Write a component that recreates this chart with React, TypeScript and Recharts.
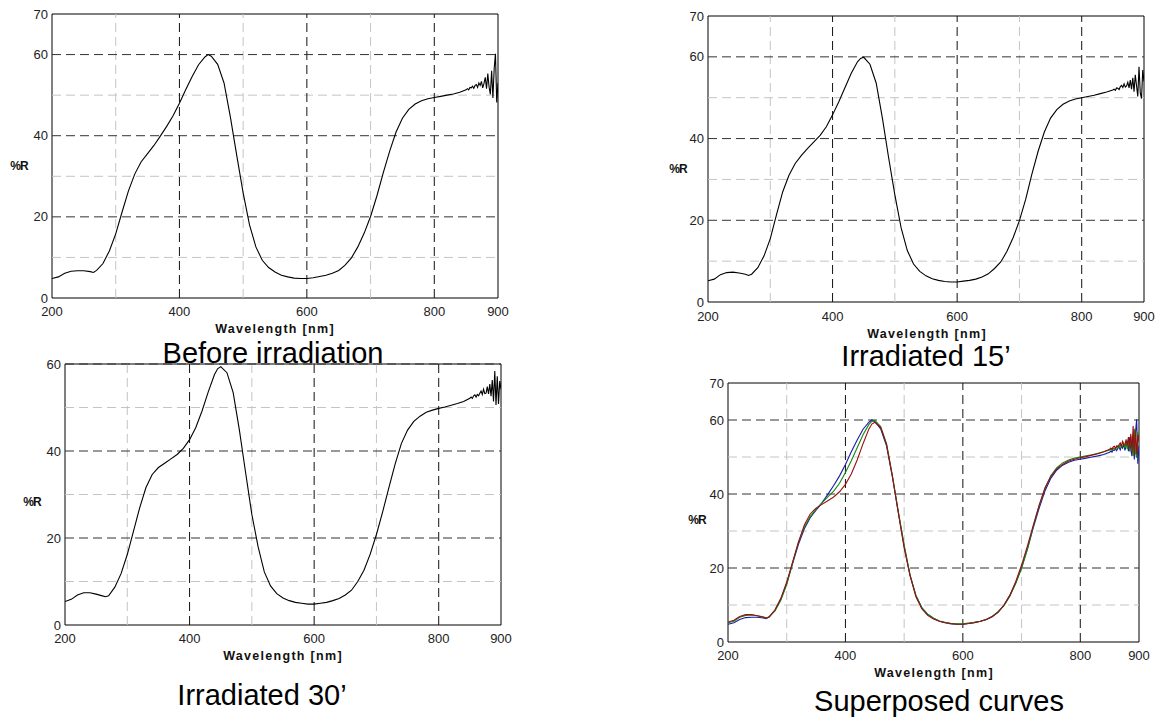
import React from "react";
import { LineChart, Line, XAxis, YAxis, ReferenceLine, ReferenceArea } from "recharts";

// wavelength samples (nm), denser at the noisy tail
const wavelength = [
  200, 210, 220, 230, 240, 250, 260, 265, 270, 280, 290, 300, 310, 320, 330, 340, 350, 360, 370, 380,
  390, 400, 410, 420, 430, 440, 445, 450, 460, 470, 480, 490, 500, 510, 520, 530, 540, 550, 560, 570,
  580, 590, 600, 610, 620, 630, 640, 650, 660, 670, 680, 690, 700, 710, 720, 730, 740, 750, 760, 770,
  780, 790, 800, 810, 820, 830, 840, 850,
  852, 854, 856, 858, 860, 862, 864, 866, 868, 870, 872, 874, 876, 878, 880, 882, 884, 886, 888, 890,
  892, 894, 896, 898, 900,
];

const beforeIrradiation = [
  4.8, 5.2, 6.1, 6.6, 6.7, 6.7, 6.5, 6.3, 6.8, 8.5, 11.6, 15.8, 21.2, 26.4, 30.6, 33.6, 35.6, 37.6, 39.9, 42.3,
  44.9, 48.0, 51.4, 54.6, 57.5, 59.4, 60.0, 59.6, 57.6, 53.0, 44.6, 35.1, 25.9, 18.0, 12.6, 9.3, 7.5, 6.4, 5.6, 5.2,
  4.9, 4.8, 4.8, 5.0, 5.3, 5.6, 6.1, 6.8, 8.1, 9.9, 12.6, 16.0, 20.1, 25.2, 30.9, 36.2, 40.9, 44.3, 46.5, 47.8,
  48.6, 49.1, 49.4, 49.7, 50.0, 50.3, 50.7, 51.3,
  51.6, 51.3, 51.9, 51.8, 52.2, 51.7, 52.4, 52.6, 51.9, 53.0, 52.4, 53.4, 51.8, 52.9, 54.4, 51.6, 55.3, 52.0, 50.2, 56.0,
  49.3, 56.5, 60.2, 48.2, 53.0,
];

const irradiated15 = [
  5.2, 5.6, 6.7, 7.2, 7.3, 7.1, 6.8, 6.5, 6.8, 8.4, 11.3, 15.5, 21.4, 27.0, 31.0, 33.9, 35.9, 37.6, 39.2, 40.8,
  42.9, 45.8, 49.0, 52.5, 56.0, 58.8, 59.6, 59.9, 58.2, 53.6, 45.0, 35.3, 26.2, 18.2, 12.6, 9.3, 7.5, 6.4, 5.7, 5.3,
  5.0, 4.9, 4.9, 5.1, 5.3, 5.6, 6.1, 6.9, 8.2, 9.8, 12.4, 15.8, 19.9, 25.1, 31.3, 36.9, 41.6, 45.0, 47.1, 48.4,
  49.2, 49.7, 50.0, 50.3, 50.6, 51.0, 51.4, 51.9,
  52.1, 51.8, 52.4, 52.3, 52.0, 52.7, 53.0, 52.5, 53.4, 52.6, 52.9, 53.8, 52.4, 54.3, 52.1, 54.9, 51.5, 55.6, 53.0, 50.3,
  57.6, 51.2, 49.8, 56.8, 54.0,
];

const irradiated30 = [
  5.4, 5.9, 6.9, 7.4, 7.4, 7.1, 6.7, 6.5, 6.7, 8.7, 11.8, 16.2, 21.6, 27.0, 31.6, 34.6, 36.2, 37.2, 38.2, 39.2,
  40.6, 42.6, 45.4, 49.2, 53.6, 57.6, 58.9, 59.4, 58.0, 53.4, 44.8, 35.0, 25.4, 18.0, 12.2, 9.0, 7.2, 6.2, 5.6, 5.2,
  5.0, 4.8, 4.8, 5.0, 5.2, 5.6, 6.1, 6.9, 8.0, 10.0, 12.6, 16.3, 20.8, 26.0, 31.6, 37.0, 41.7, 44.8, 46.8, 48.0,
  48.9, 49.4, 49.8, 50.1, 50.5, 50.9, 51.4, 52.1,
  52.4, 52.1, 52.7, 52.9, 52.4, 53.0, 52.7, 53.3, 53.8, 53.0, 54.2, 53.2, 53.3, 54.8, 53.1, 55.4, 52.6, 56.3, 51.4, 58.4,
  50.6, 57.2, 50.8, 56.1, 54.2,
];

const xTicks = [200, 400, 600, 800, 900];
const yTicks70 = [0, 20, 40, 60, 70];
const yTicks60 = [0, 20, 40, 60];
const majorX = [400, 600, 800];
const minorX = [300, 500, 700];
const majorY = [20, 40, 60];
const minorY = [10, 30, 50];

const data = wavelength.map((wl, i) => ({
  wl,
  before: beforeIrradiation[i],
  irr15: irradiated15[i],
  irr30: irradiated30[i],
}));

const FONT = "'Liberation Sans', Arial, Helvetica, sans-serif";

type Series = { key: string; color: string };

type PanelProps = {
  left: number;
  top: number;
  plotW: number;
  plotH: number;
  yMax: number;
  yTicks: number[];
  series: Series[];
  tickGap: number;
  title: string;
  titleX: number;
  titleBase: number;
  xLabelX: number;
  xLabelBase: number;
  rX: number;
  rY: number;
};

// top of a line box of height lh so that the text baseline lands on base
const baseTop = (base: number, size: number, lh: number) => base - ((lh - 1.117 * size) / 2 + 0.905 * size);

const Panel = (p: PanelProps) => {
  const mL = 60;
  const mT = 10;
  const w = p.plotW + mL + 20;
  const h = p.plotH + mT + 40;
  return (
    <>
      <div style={{ position: "absolute", left: p.left - mL, top: p.top - mT, width: w, height: h }}>
        <LineChart width={w} height={h} data={data} margin={{ top: mT, right: 20, bottom: 0, left: 0 }}>
          <XAxis
            dataKey="wl"
            type="number"
            domain={[200, 900]}
            ticks={xTicks}
            height={40}
            axisLine={false}
            tickLine={false}
            tickSize={0}
            tickMargin={p.tickGap}
            tick={{ fontSize: 13, fill: "#222", fontFamily: FONT }}
            allowDataOverflow
          />
          <YAxis
            type="number"
            domain={[0, p.yMax]}
            ticks={p.yTicks}
            width={mL}
            axisLine={false}
            tickLine={false}
            tickSize={0}
            tickMargin={4}
            tick={{ fontSize: 13, fill: "#222", fontFamily: FONT }}
            allowDataOverflow
          />
          {minorX.map((x) => (
            <ReferenceLine key={"mx" + x} x={x} stroke="#c4c4c4" strokeDasharray="9 5" />
          ))}
          {minorY.map((y) => (
            <ReferenceLine key={"my" + y} y={y} stroke="#c4c4c4" strokeDasharray="9 5" />
          ))}
          {majorX.map((x) => (
            <ReferenceLine key={"Mx" + x} x={x} stroke="#111" strokeDasharray="9 5" />
          ))}
          {majorY.map((y) => (
            <ReferenceLine key={"My" + y} y={y} stroke="#333" strokeDasharray="9 5" />
          ))}
          <ReferenceArea x1={200} x2={900} y1={0} y2={p.yMax} fill="none" fillOpacity={0} stroke="#000" strokeWidth={1} />
          {p.series.map((s) => (
            <Line
              key={s.key}
              type="linear"
              dataKey={s.key}
              stroke={s.color}
              strokeWidth={1.1}
              dot={false}
              isAnimationActive={false}
            />
          ))}
        </LineChart>
      </div>
      <div
        style={{
          position: "absolute", left: p.rX - 20, top: p.rY - 6, width: 40, textAlign: "center",
          fontFamily: FONT, fontWeight: "bold", fontSize: 12, lineHeight: "12px", letterSpacing: -1, color: "#111",
        }}
      >
        %R
      </div>
      <div
        style={{
          position: "absolute", left: p.xLabelX - 150, top: baseTop(p.xLabelBase, 12.5, 10), width: 300, textAlign: "center",
          fontFamily: FONT, fontWeight: "bold", fontSize: 12.5, lineHeight: "10px", letterSpacing: 1.3, color: "#111",
        }}
      >
        Wavelength [nm]
      </div>
      <div
        style={{
          position: "absolute", left: p.titleX - 200, top: baseTop(p.titleBase, 29, 22), width: 400, textAlign: "center",
          fontFamily: FONT, fontSize: 29, lineHeight: "22px", color: "#000",
        }}
      >
        {p.title}
      </div>
    </>
  );
};

const App = () => {
  return (
    <div style={{ position: "absolute", left: 0, top: 0, width: 1174, height: 717, background: "#fff" }}>
      <Panel
        left={52} top={14} plotW={446} plotH={284} yMax={70} yTicks={yTicks70}
        series={[{ key: "before", color: "#000" }]} tickGap={9}
        title="Before irradiation" titleX={273} titleBase={363}
        xLabelX={275} xLabelBase={333.5} rX={19} rY={166}
      />
      <Panel
        left={708} top={16} plotW={436} plotH={286} yMax={70} yTicks={yTicks70}
        series={[{ key: "irr15", color: "#000" }]} tickGap={10}
        title="Irradiated 15’" titleX={926} titleBase={366}
        xLabelX={927} xLabelBase={338} rX={678} rY={169}
      />
      <Panel
        left={65} top={364} plotW={436} plotH={261} yMax={60} yTicks={yTicks60}
        series={[{ key: "irr30", color: "#000" }]} tickGap={9}
        title="Irradiated 30’" titleX={262} titleBase={705}
        xLabelX={283} xLabelBase={660} rX={32} rY={502}
      />
      <Panel
        left={728} top={383} plotW={411} plotH={259} yMax={70} yTicks={yTicks70}
        series={[
          { key: "before", color: "#1a1aa8" },
          { key: "irr15", color: "#108a10" },
          { key: "irr30", color: "#9a1010" },
        ]}
        tickGap={9}
        title="Superposed curves" titleX={939} titleBase={711}
        xLabelX={934} xLabelBase={677} rX={697} rY={520}
      />
    </div>
  );
};

export default App;
